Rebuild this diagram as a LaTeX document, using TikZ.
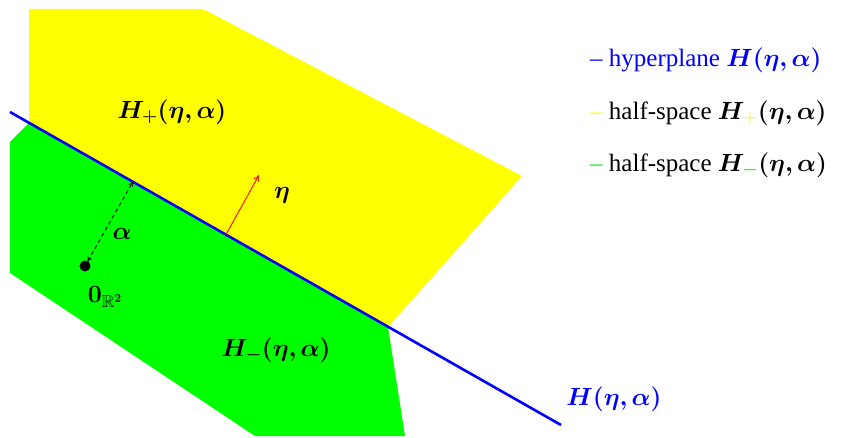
\documentclass[tikz,border=0pt]{standalone}
\usepackage{amsmath,amssymb,bm}
\usepackage[no-math]{fontspec}
\setmainfont{Liberation Serif}
\usetikzlibrary{arrows.meta}
\definecolor{yel}{RGB}{255,255,0}
\definecolor{grn}{RGB}{0,255,0}
\definecolor{blu}{RGB}{0,0,255}
\definecolor{rd}{RGB}{255,0,0}
\tikzset{
  lbl/.style={inner sep=0pt},
  legend/.style={inner sep=0pt, anchor=west},
  hyper/.style={blu, line width=2.6pt},
  normalvec/.style={rd, line width=0.9pt, -{To[length=6pt,width=6pt]}},
  dist/.style={black, line width=0.9pt, dashed, dash pattern=on 4pt off 3pt, shorten <=5pt, {To[length=5pt,width=5pt]}-{To[length=5pt,width=5pt]}}
}
\begin{document}
\begin{tikzpicture}[x=1pt,y=-1pt, font=\fontsize{25}{30}\selectfont]
\useasboundingbox (0,0) rectangle (845,438);
% regions
\fill[yel] (29,9) -- (203,9) -- (522,176) -- (388,327) -- (29,123) -- cycle;
\fill[grn] (29,123) -- (388,327) -- (405,436) -- (255,436) -- (10,273) -- (10,142) -- cycle;
% hyperplane
\coordinate (hs) at (10,112);
\coordinate (he) at (561,425);
\draw[hyper] (hs) -- (he);
% origin and distance
\coordinate (o) at (85,266);
\coordinate (foot) at (133,181.5);
\draw[dist] (o) -- (foot);
\fill[black] (o) circle (5.5pt);
% normal vector
\coordinate (ns) at (226,234.5);
\coordinate (ne) at (259,175);
\draw[normalvec] (ns) -- (ne);
% labels
\node[lbl] (hp) at (172,112) {$\bm{H}_{\bm{+}}\bm{(\eta,\alpha)}$};
\node[lbl] (eta) at (282,195) {$\bm{\eta}$};
\node[lbl] (alpha) at (122,234) {$\bm{\alpha}$};
\node[lbl] (zero) at (105,297) {$\mathbf{0}_{\mathbb{R}^{\mathbf{2}}}$};
\node[lbl] (hm) at (276,350) {$\bm{H}_{\bm{-}}\bm{(\eta,\alpha)}$};
\node[lbl, text=blu] (hl) at (614,399) {$\bm{H(\eta,\alpha)}$};
% legend
\node[legend, text=blu] (l1) at (590,60) {– hyperplane $\bm{H(\eta,\alpha)}$};
\node[legend] (l2) at (590,113) {\textcolor{yel}{–} half-space $\bm{H}_{\textcolor{yel}{\bm{+}}}\bm{(\eta,\alpha)}$};
\node[legend] (l3) at (590,165) {\textcolor{grn}{–} half-space $\bm{H}_{\textcolor{grn}{\bm{-}}}\bm{(\eta,\alpha)}$};
\end{tikzpicture}
\end{document}
